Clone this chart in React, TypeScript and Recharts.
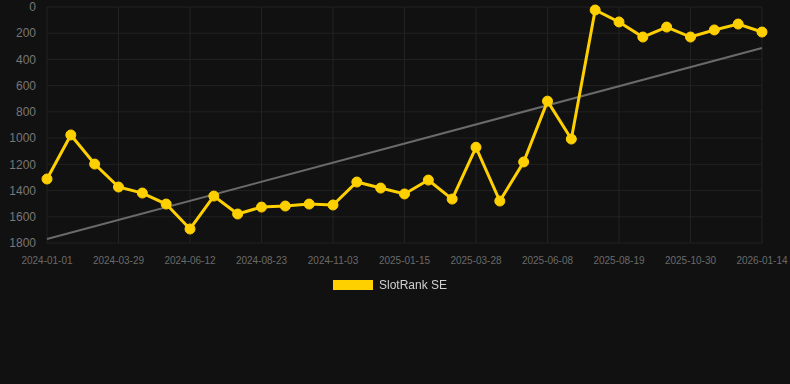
import React from 'react';
import { LineChart, Line, XAxis, YAxis, CartesianGrid, Legend, ReferenceLine } from 'recharts';

const dates = [
  '2024-01-01', '2024-01-30', '2024-02-28', '2024-03-29', '2024-04-23', '2024-05-18',
  '2024-06-12', '2024-07-06', '2024-07-30', '2024-08-23', '2024-09-16', '2024-10-10',
  '2024-11-03', '2024-11-27', '2024-12-22', '2025-01-15', '2025-02-08', '2025-03-04',
  '2025-03-28', '2025-04-21', '2025-05-15', '2025-06-08', '2025-07-02', '2025-07-26',
  '2025-08-19', '2025-09-12', '2025-10-06', '2025-10-30', '2025-11-24', '2025-12-19',
  '2026-01-14',
];

const ranks = [
  1312, 976, 1198, 1373, 1419, 1503,
  1693, 1442, 1579, 1526, 1518, 1503,
  1510, 1335, 1381, 1426, 1320, 1465,
  1070, 1480, 1182, 718, 1007, 23,
  114, 229, 153, 229, 175, 130,
  191,
];

const yTicks = [0, 200, 400, 600, 800, 1000, 1200, 1400, 1600, 1800];
const trendStart = 1770;
const trendEnd = 313;
const seriesName = 'SlotRank SE';

const data = dates.map((d, i) => ({ date: d, rank: ranks[i] }));

const YELLOW = '#FFD000';

const renderLegend = () => (
  <div style={{ display: 'flex', justifyContent: 'center', alignItems: 'center', fontFamily: '"Liberation Sans", Arial, sans-serif', fontSize: 12, color: '#d0d0d0' }}>
    <span style={{ display: 'inline-block', width: 40, height: 10, background: YELLOW, marginRight: 6 }} />
    <span>{seriesName}</span>
  </div>
);

export default function App() {
  return (
    <div style={{ position: 'fixed', left: 0, top: 0, width: 790, height: 384, background: '#111111' }}>
      <LineChart
        width={790}
        height={384}
        data={data}
        margin={{ top: 7, right: 28, left: 0, bottom: 111 }}
        style={{ fontFamily: '"Liberation Sans", Arial, sans-serif' }}
      >
        <CartesianGrid stroke="#222222" strokeWidth={1} />
        <XAxis
          dataKey="date"
          interval={2}
          height={30}
          axisLine={false}
          tickLine={false}
          tickMargin={8}
          tick={{ fill: '#6a6a6a', fontSize: 10 }}
        />
        <YAxis
          reversed
          domain={[0, 1800]}
          ticks={yTicks}
          interval={0}
          width={47}
          axisLine={false}
          tickLine={false}
          tickMargin={5}
          tick={{ fill: '#777777', fontSize: 12 }}
        />
        <ReferenceLine
          segment={[{ x: dates[0], y: trendStart }, { x: dates[dates.length - 1], y: trendEnd }]}
          stroke="#6a6a6a"
          strokeWidth={2}
          ifOverflow="visible"
        />
        <Line
          type="linear"
          dataKey="rank"
          name={seriesName}
          stroke={YELLOW}
          strokeWidth={3}
          dot={{ r: 5, fill: YELLOW, stroke: YELLOW, strokeWidth: 1 }}
          isAnimationActive={false}
        />
        <Legend
          verticalAlign="middle"
          align="center"
          layout="horizontal"
          content={renderLegend}
          wrapperStyle={{ top: 278, left: -5, width: 790, height: 14 }}
        />
      </LineChart>
    </div>
  );
}
